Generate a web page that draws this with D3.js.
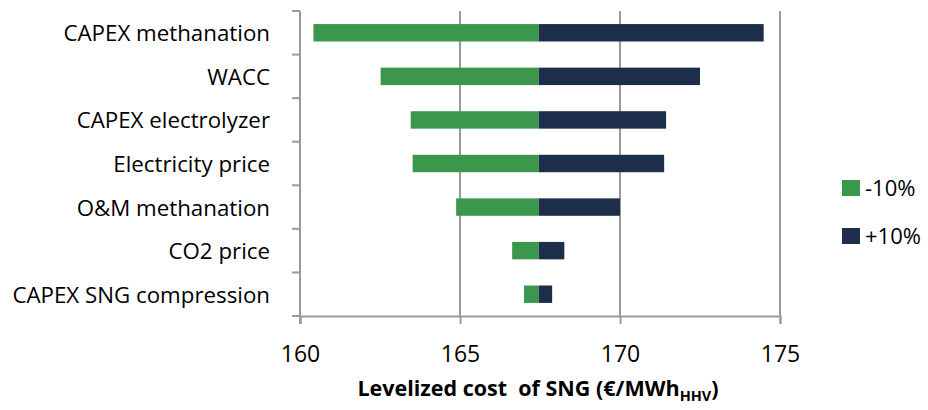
<!DOCTYPE html>
<html>
<head>
<meta charset="utf-8">
<script src="https://cdn.jsdelivr.net/npm/d3@7"></script>
<style>
  html, body { margin: 0; padding: 0; background: #fff; }
  svg { display: block; }
  text { font-family: "Open Sans", Lato, sans-serif; fill: #000; }
</style>
</head>
<body>
<svg id="chart" width="928" height="410"></svg>
<script>
const categories = ["CAPEX methanation", "WACC", "CAPEX electrolyzer", "Electricity price", "O&M methanation", "CO2 price", "CAPEX SNG compression"];
const lowValues  = [160.42, 162.52, 163.46, 163.52, 164.88, 166.63, 167.00];
const highValues = [174.49, 172.50, 171.44, 171.38, 170.00, 168.26, 167.88];
const baseValue = 167.46;
const xTicks = [160, 165, 170, 175];
const seriesNames = ["-10%", "+10%"];
const seriesColors = ["#3A974C", "#1C2E4A"];

const svg = d3.select("#chart");
const plot = {left: 300, right: 780, top: 11, bottom: 316};

const x = d3.scaleLinear().domain([160, 175]).range([plot.left, plot.right]);
const y = d3.scaleBand().domain(categories).range([plot.top, plot.bottom]).paddingInner(0.6).paddingOuter(0.3);
const yBand = d3.scaleBand().domain(categories).range([plot.top, plot.bottom]);

const gridColor = "#9a9a9a";

// vertical gridlines
svg.append("g").selectAll("line").data(xTicks.slice(1)).join("line")
  .attr("x1", d => x(d)).attr("x2", d => x(d))
  .attr("y1", plot.top).attr("y2", plot.bottom)
  .attr("stroke", gridColor).attr("stroke-width", 2);

// bars
const rows = categories.map((c, i) => ({c, low: lowValues[i], high: highValues[i]}));
svg.append("g").selectAll("rect").data(rows).join("rect")
  .attr("x", d => x(d.low)).attr("width", d => x(baseValue) - x(d.low))
  .attr("y", d => y(d.c)).attr("height", y.bandwidth())
  .attr("fill", seriesColors[0]);
svg.append("g").selectAll("rect").data(rows).join("rect")
  .attr("x", x(baseValue)).attr("width", d => x(d.high) - x(baseValue))
  .attr("y", d => y(d.c)).attr("height", y.bandwidth())
  .attr("fill", seriesColors[1]);

// x axis
const xAxis = svg.append("g").attr("transform", `translate(0,${plot.bottom})`)
  .call(d3.axisBottom(x).tickValues(xTicks).tickSize(8).tickPadding(22).tickFormat(d3.format("d")));
xAxis.select(".domain").attr("stroke", gridColor).attr("stroke-width", 2);
xAxis.selectAll(".tick line").attr("stroke", gridColor).attr("stroke-width", 2);
xAxis.selectAll(".tick text").attr("font-family", "'Open Sans', sans-serif").attr("font-size", 23).attr("fill", "#000");

// y axis line with band boundary ticks
const yAxisG = svg.append("g");
yAxisG.append("line").attr("x1", plot.left).attr("x2", plot.left)
  .attr("y1", plot.top).attr("y2", plot.bottom + 8)
  .attr("stroke", gridColor).attr("stroke-width", 2);
const boundaries = categories.map(c => yBand(c)).concat([plot.bottom]);
yAxisG.selectAll("line.tk").data(boundaries).join("line").attr("class", "tk")
  .attr("x1", plot.left - 8).attr("x2", plot.left)
  .attr("y1", d => d).attr("y2", d => d)
  .attr("stroke", gridColor).attr("stroke-width", 2);

// category labels
svg.append("g").selectAll("text").data(categories).join("text")
  .attr("x", 270).attr("y", d => y(d) + y.bandwidth() / 2 + 8.5)
  .attr("text-anchor", "end").attr("font-size", 22.3)
  .text(d => d);

// x title
const title = svg.append("text").attr("x", 538).attr("y", 396)
  .attr("text-anchor", "middle").attr("font-size", 21.5).attr("font-weight", "bold")
  .style("white-space", "pre");
title.append("tspan").text("Levelized cost  of SNG (€/MWh");
title.append("tspan").attr("font-size", 14.5).attr("dy", 5).text("HHV");
title.append("tspan").attr("dy", -5).text(")");

// legend
const legend = svg.append("g");
seriesNames.forEach((name, i) => {
  const ly = 180 + i * 48;
  legend.append("rect").attr("x", 842).attr("y", ly).attr("width", 18).attr("height", 16).attr("fill", seriesColors[i]);
  legend.append("text").attr("x", 865).attr("y", ly + 16).attr("font-size", 22).text(name);
});
</script>
</body>
</html>
